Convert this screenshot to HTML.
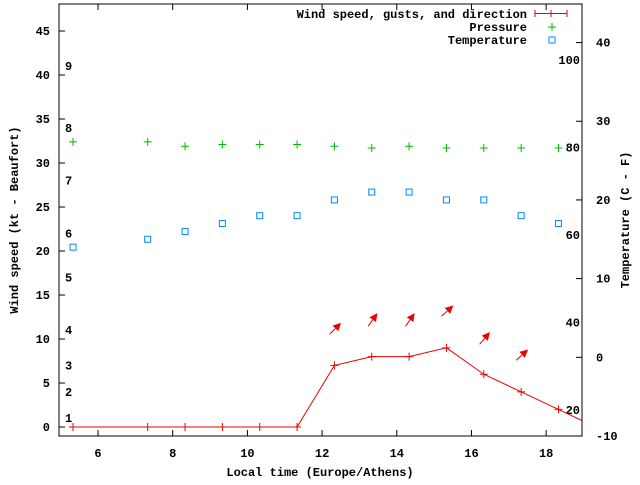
<!DOCTYPE html>
<html><head><meta charset="utf-8"><style>
html,body{margin:0;padding:0;background:#fff}
svg text{font-family:"Liberation Mono",monospace;font-size:12px;font-weight:bold;fill:#000}
</style></head><body>
<svg id="chart" width="640" height="480" viewBox="0 0 640 480" xmlns="http://www.w3.org/2000/svg">
<rect width="640" height="480" fill="#fff"/>
<g id="grid"></g>
<g id="marks"></g>
<rect x="59" y="4" width="523" height="432" fill="none" stroke="#000" stroke-width="1"/>
<text x="320" y="476" text-anchor="middle">Local time (Europe/Athens)</text>
<text transform="translate(18,220) rotate(-90)" text-anchor="middle">Wind speed (kt - Beaufort)</text>
<text transform="translate(629,220) rotate(-90)" text-anchor="middle">Temperature (C - F)</text>
<g>
<text x="527" y="18" text-anchor="end">Wind speed, gusts, and direction</text>
<path d="M535 13.5H567M535 10V17M567 10V17M551 10V17" stroke="#e00" stroke-width="1"/>
<text x="527" y="31" text-anchor="end">Pressure</text>
<path d="M548 27H556M552 23V31" stroke="#0b0" stroke-width="1"/>
<text x="527" y="44" text-anchor="end">Temperature</text>
<rect x="549" y="37" width="6" height="6" fill="none" stroke="#08f" stroke-width="1"/>
</g>
</svg>
<script>
const hours = [5.33,7.33,8.33,9.33,10.33,11.33,12.33,13.33,14.33,15.33,16.33,17.33,18.33,19.33];
const windKt = [0,0,0,0,0,0,7,8,8,9,6,4,2,0];
const pressure = [32.4,32.4,31.9,32.1,32.1,32.1,31.9,31.7,31.9,31.7,31.7,31.7,31.7];
const tempC = [14,15,16,17,18,18,20,21,21,20,20,18,17];
const arrowHours = [12.33,13.33,14.33,15.33,16.33,17.33];
const gustKt = [11.2,12.2,12.2,13.2,10.1,8.2];
const arrowAngle = [45,55,55,42,50,42];
const xTicks = [6,8,10,12,14,16,18];
const yTicks = [0,5,10,15,20,25,30,35,40,45];
const y2Ticks = [-10,0,10,20,30,40];
const beaufortLevels = [1,2,3,4,5,6,7,8,9];
const beaufortKt = [1,4,7,11,17,22,28,34,41];
const fahrenheit = [20,40,60,80,100];

const L=59,R=582,T=4,B=436;
const xMin=4.955,xMax=18.96,yMin=-1.02,yMax=48.07,tMin=-10,tMax=44.9;
const sx=v=>L+(v-xMin)/(xMax-xMin)*(R-L);
const sy=v=>B-(v-yMin)/(yMax-yMin)*(B-T);
const st=v=>B-(v-tMin)/(tMax-tMin)*(B-T);
const NS='http://www.w3.org/2000/svg';
const grid=document.getElementById('grid'),marks=document.getElementById('marks');
function mk(tag,attrs,parent){const e=document.createElementNS(NS,tag);for(const k in attrs)e.setAttribute(k,attrs[k]);parent.appendChild(e);return e;}

xTicks.forEach(v=>{const x=sx(v);
 const t=mk('path',{d:`M${x} ${B}V${B-6}M${x} ${T}V${T+6}`,stroke:'#000'},grid);
 
 
 const l=mk('text',{x:x,y:B+21,'text-anchor':'middle'},grid);l.textContent=v;
 
 
});
yTicks.forEach(v=>{const y=sy(v);
 const t=mk('path',{d:`M${L} ${y}H${L+6}`,stroke:'#000'},grid);
 
 
 const l=mk('text',{x:L-9,y:y+4,'text-anchor':'end'},grid);l.textContent=v;
 
 
});
y2Ticks.forEach(v=>{const y=st(v);
 const t=mk('path',{d:`M${R} ${y}H${R-6}`,stroke:'#000'},grid);
 
 
 const l=mk('text',{x:R+14,y:y+4,'text-anchor':'start'},grid);l.textContent=v;
 
 
});
beaufortLevels.forEach((b,i)=>{
 const l=mk('text',{x:65,y:sy(beaufortKt[i])+4},grid);l.textContent=b;
 
 
});
fahrenheit.forEach(f=>{
 const l=mk('text',{x:580,y:st((f-32)*5/9)+4,'text-anchor':'end'},grid);l.textContent=f;
 
 
});

const defs=mk('defs',{},marks);
const cp=mk('clipPath',{id:'clip'},defs);mk('rect',{x:L,y:T,width:R-L,height:B-T},cp);
const g=mk('g',{'clip-path':'url(#clip)'},marks);

const wl=mk('polyline',{points:hours.map((h,i)=>`${sx(h)},${sy(windKt[i])}`).join(' '),fill:'none',stroke:'#e00','stroke-width':1},g);


hours.forEach((h,i)=>{const x=sx(h),y=sy(windKt[i]);
 const p=mk('path',{d:`M${x-4} ${y}H${x+4}M${x} ${y-4}V${y+4}`,stroke:'#e00'},g);
 
 
});
pressure.forEach((v,i)=>{const x=sx(hours[i]),y=sy(v);
 const p=mk('path',{d:`M${x-4} ${y}H${x+4}M${x} ${y-4}V${y+4}`,stroke:'#0b0'},g);
 
 
});
tempC.forEach((v,i)=>{const x=sx(hours[i]),y=st(v);
 const p=mk('rect',{x:x-3,y:y-3,width:6,height:6,fill:'none',stroke:'#08f'},g);
 
 
});
arrowHours.forEach((h,i)=>{const cx=sx(h)+1,cy=sy(gustKt[i]);const a=arrowAngle[i]*Math.PI/180;
 const dx=Math.cos(a),dy=-Math.sin(a),len=16;
 const x1=cx-dx*len/2,y1=cy-dy*len/2,x2=cx+dx*len/2,y2=cy+dy*len/2;
 const px=-dy,py=dx,hl=8,hw=4;
 const bx=x2-dx*hl,by=y2-dy*hl;
 const grp=mk('g',{},g);
 
 
 mk('line',{x1:x1,y1:y1,x2:bx,y2:by,stroke:'#e00'},grp);
 mk('polygon',{points:`${x2},${y2} ${bx+px*hw},${by+py*hw} ${bx-px*hw},${by-py*hw}`,fill:'#e00'},grp);
});
</script>
</body></html>
